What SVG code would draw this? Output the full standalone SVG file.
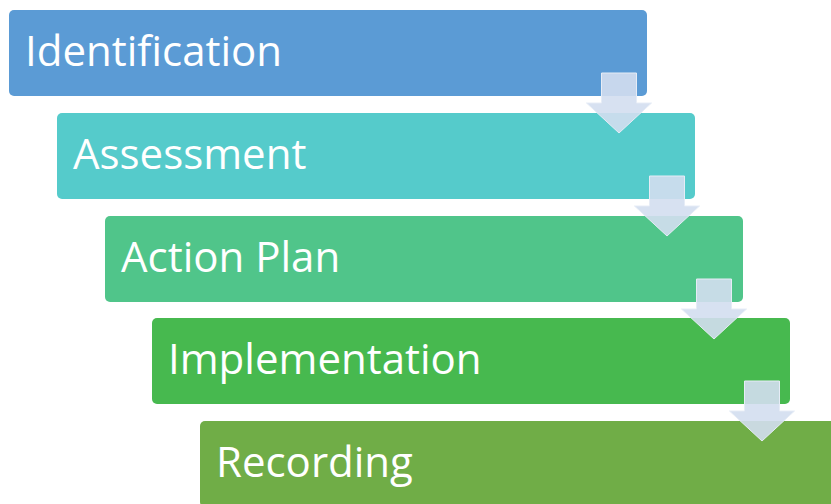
<svg xmlns="http://www.w3.org/2000/svg" width="831" height="504" viewBox="0 0 831 504">
  <style>
    .box { stroke: none; }
    .label { font-family: "Open Sans", "Noto Sans", sans-serif; font-size: 42px; fill: #ffffff; }
    .arrow { fill: #d3deef; fill-opacity: 0.9; stroke: #e6ecf6; stroke-width: 1; }
  </style>
  <defs>
    <!-- down arrow, centred on x=0, top at y=0 -->
    <polygon id="down" points="-17.5,0 17.5,0 17.5,30 32.5,30 0,60 -32.5,30 -17.5,30"/>
  </defs>
  <rect width="831" height="504" fill="#ffffff"/>

  <g id="identification">
    <rect class="box" x="9" y="10" width="638" height="86" rx="5" fill="#5b9bd5"/>
    <text class="label" x="25" y="66">Identification</text>
  </g>
  <g id="assessment">
    <rect class="box" x="57" y="113" width="638" height="86" rx="5" fill="#55cbcb"/>
    <text class="label" x="73" y="169">Assessment</text>
  </g>
  <g id="action-plan">
    <rect class="box" x="105" y="216" width="638" height="86" rx="5" fill="#50c58a"/>
    <text class="label" x="121" y="272">Action Plan</text>
  </g>
  <g id="implementation">
    <rect class="box" x="152" y="318" width="638" height="86" rx="5" fill="#47b94f"/>
    <text class="label" x="168" y="374">Implementation</text>
  </g>
  <g id="recording">
    <rect class="box" x="200" y="421" width="638" height="86" rx="5" fill="#70ad47"/>
    <text class="label" x="216" y="477">Recording</text>
  </g>

  <g id="connectors">
    <use href="#down" class="arrow" x="619" y="73"/>
    <use href="#down" class="arrow" x="667" y="176"/>
    <use href="#down" class="arrow" x="714" y="279"/>
    <use href="#down" class="arrow" x="762" y="381"/>
  </g>
</svg>
